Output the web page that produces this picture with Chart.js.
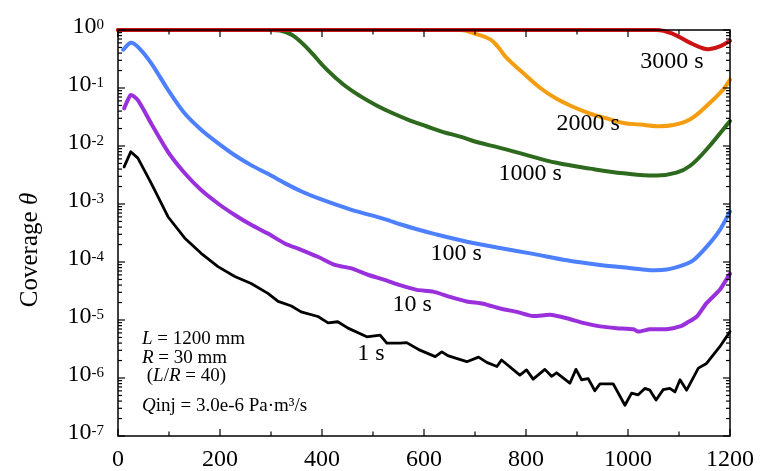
<!DOCTYPE html>
<html>
<head>
<meta charset="utf-8">
<script src="https://cdn.jsdelivr.net/npm/chart.js@4.4.1/dist/chart.umd.min.js"></script>
<style>
  html, body { margin: 0; padding: 0; background: #fff; }
  #wrap { width: 760px; height: 471px; }
</style>
</head>
<body>
<div id="wrap"><canvas id="coverageChart" width="760" height="471"></canvas></div>
<script>
// position along the pipe (mm) and surface coverage for each elapsed time
const pos3000 = [0, 1056, 1089, 1122, 1148, 1161, 1180, 1200];
const cov3000 = [1, 1, 0.85, 0.60, 0.48, 0.47, 0.52, 0.65];

const pos2000 = [0, 671, 703, 730, 746, 762, 795, 828, 860, 893, 926, 958, 991, 1024, 1056, 1089, 1122, 1154, 1187, 1200];
const cov2000 = [1, 1, 0.85, 0.69, 0.50, 0.33, 0.18, 0.10, 0.065, 0.047, 0.036, 0.030, 0.025, 0.0234, 0.022, 0.023, 0.029, 0.049, 0.095, 0.138];

const pos1000 = [0, 300, 318, 344, 376, 409, 442, 475, 507, 540, 573, 605, 638, 671, 703, 749, 795, 860, 926, 991, 1056, 1095, 1122, 1154, 1187, 1200];
const cov1000 = [1, 1, 0.98, 0.794, 0.437, 0.209, 0.115, 0.0724, 0.0501, 0.0363, 0.0275, 0.0219, 0.0174, 0.0145, 0.0117, 0.0093, 0.00724, 0.00513, 0.00407, 0.00339, 0.00309, 0.00347, 0.00457, 0.00871, 0.0195, 0.0269];

const pos100 = [10, 25, 39, 65, 98, 131, 163, 196, 229, 261, 294, 327, 359, 392, 458, 523, 553, 588, 618, 684, 749, 814, 880, 945, 1011, 1043, 1076, 1109, 1128, 1154, 1180, 1200];
const cov100 = [0.457, 0.603, 0.513, 0.269, 0.0933, 0.0363, 0.0191, 0.0112, 0.00692, 0.00468, 0.00331, 0.00229, 0.00166, 0.00126, 7.94e-4, 5.50e-4, 4.47e-4, 3.63e-4, 3.09e-4, 2.24e-4, 1.74e-4, 1.38e-4, 1.07e-4, 8.91e-5, 7.76e-5, 7.24e-5, 7.41e-5, 8.91e-5, 1.07e-4, 1.82e-4, 3.55e-4, 7.41e-4];

const pos10 = [12, 25, 39, 65, 98, 131, 163, 196, 229, 261, 294, 327, 359, 392, 425, 458, 490, 523, 553, 586, 618, 651, 684, 716, 749, 782, 814, 847, 880, 912, 945, 978, 1011, 1020, 1043, 1076, 1102, 1115, 1135, 1154, 1180, 1200];
const cov10 = [0.0447, 0.0759, 0.0617, 0.0245, 0.00794, 0.00339, 0.00174, 0.00102, 6.46e-4, 4.37e-4, 3.09e-4, 2.09e-4, 1.62e-4, 1.23e-4, 8.91e-5, 7.76e-5, 6.03e-5, 4.90e-5, 3.98e-5, 3.31e-5, 3.09e-5, 2.51e-5, 2.09e-5, 1.91e-5, 1.58e-5, 1.38e-5, 1.17e-5, 1.23e-5, 1.07e-5, 8.91e-6, 7.76e-6, 7.24e-6, 6.92e-6, 6.31e-6, 6.92e-6, 6.92e-6, 7.76e-6, 8.91e-6, 1.15e-5, 1.95e-5, 3.31e-5, 6.31e-5];

const pos1 = [12, 25, 39, 65, 82, 98, 131, 163, 196, 229, 261, 294, 314, 340, 359, 392, 412, 431, 451, 488, 514, 527, 553, 566, 592, 622, 635, 648, 684, 707, 723, 743, 752, 788, 801, 814, 837, 850, 860, 886, 898, 909, 922, 935, 945, 971, 994, 1007, 1020, 1033, 1043, 1055, 1069, 1082, 1092, 1102, 1115, 1138, 1154, 1180, 1200];
const cov1 = [4.37e-3, 7.94e-3, 6.17e-3, 2.29e-3, 1.15e-3, 6.03e-4, 2.57e-4, 1.41e-4, 8.32e-5, 5.62e-5, 4.27e-5, 2.88e-5, 2.09e-5, 1.74e-5, 1.38e-5, 1.15e-5, 8.91e-6, 9.33e-6, 7.24e-6, 5.13e-6, 5.50e-6, 3.98e-6, 3.98e-6, 4.07e-6, 3.02e-6, 2.34e-6, 2.82e-6, 2.40e-6, 1.91e-6, 2.29e-6, 1.86e-6, 1.58e-6, 2.04e-6, 1.12e-6, 1.38e-6, 9.55e-7, 1.41e-6, 1.07e-6, 1.23e-6, 8.13e-7, 1.41e-6, 9.33e-7, 9.77e-7, 6.03e-7, 7.94e-7, 7.94e-7, 3.39e-7, 5.50e-7, 5.13e-7, 6.61e-7, 6.17e-7, 4.17e-7, 6.31e-7, 6.61e-7, 5.75e-7, 9.33e-7, 6.17e-7, 1.48e-6, 1.78e-6, 3.47e-6, 6.31e-6];

// axis ticks
const xTickValues = [0, 200, 400, 600, 800, 1000, 1200];
const yTickValues = [1, 1e-1, 1e-2, 1e-3, 1e-4, 1e-5, 1e-6, 1e-7];
const yTickExps = ['0', '-1', '-2', '-3', '-4', '-5', '-6', '-7'];

// curve labels, anchored in data coordinates
const curveLabels = ['3000 s', '2000 s', '1000 s', '100 s', '10 s', '1 s'];
const labelPos = [1086, 922, 808, 663, 577, 496];
const labelCov = [0.28, 0.024, 3.3e-3, 1.38e-4, 1.8e-5, 2.6e-6];

const SERIF = '"Liberation Serif", "Times New Roman", serif';

function pts(xs, ys) {
    return xs.map((x, i) => ({ x, y: ys[i] }));
}

function series(xs, ys, color, width, tension) {
    return {
        data: pts(xs, ys),
        borderColor: color,
        borderWidth: width,
        pointRadius: 0,
        fill: false,
        clip: 6,
        tension: tension,
        borderJoinStyle: 'round',
        borderCapStyle: 'round'
    };
}

// draws a line of text made of [text, italic] runs
function drawRuns(ctx, runs, x, y, size) {
    for (const [text, italic] of runs) {
        ctx.font = (italic ? 'italic ' : '') + size + 'px ' + SERIF;
        ctx.fillText(text, x, y);
        x += ctx.measureText(text).width;
    }
}

function runsWidth(ctx, runs, size) {
    let w = 0;
    for (const [text, italic] of runs) {
        ctx.font = (italic ? 'italic ' : '') + size + 'px ' + SERIF;
        w += ctx.measureText(text).width;
    }
    return w;
}

const framePlugin = {
    id: 'frame',
    afterDatasetsDraw(chart) {
        const { ctx, chartArea: a, scales: { x, y } } = chart;
        ctx.save();
        ctx.strokeStyle = '#000';
        ctx.fillStyle = '#000';
        ctx.lineWidth = 1.5;
        ctx.strokeRect(a.left, a.top, a.right - a.left, a.bottom - a.top);

        const seg = (x1, y1, x2, y2) => {
            ctx.beginPath();
            ctx.moveTo(x1, y1);
            ctx.lineTo(x2, y2);
            ctx.stroke();
        };

        // x ticks point inward, top and bottom
        ctx.lineWidth = 1.2;
        for (let v = 0; v <= 1200; v += 100) {
            const px = x.getPixelForValue(v);
            const len = v % 200 === 0 ? 7 : 4.5;
            seg(px, a.bottom, px, a.bottom - len);
            seg(px, a.top, px, a.top + len);
        }

        // y ticks: decades plus 2..9 minors, left and right
        yTickValues.forEach(v => {
            const py = y.getPixelForValue(v);
            seg(a.left, py, a.left + 7, py);
            seg(a.right, py, a.right - 7, py);
            if (v < 1) {
                for (let m = 2; m <= 9; m++) {
                    const pm = y.getPixelForValue(v * m);
                    seg(a.left, pm, a.left + 4, pm);
                    seg(a.right, pm, a.right - 4, pm);
                }
            }
        });

        // x tick labels
        ctx.font = '24px ' + SERIF;
        ctx.textAlign = 'center';
        ctx.textBaseline = 'middle';
        xTickValues.forEach(v => {
            ctx.fillText(String(v), x.getPixelForValue(v), a.bottom + 24);
        });

        // y tick labels as 10 with a raised exponent
        ctx.textAlign = 'right';
        yTickValues.forEach((v, i) => {
            const py = y.getPixelForValue(v);
            const right = a.left - 14;
            ctx.font = '15px ' + SERIF;
            ctx.textBaseline = 'alphabetic';
            const ew = ctx.measureText(yTickExps[i]).width;
            ctx.fillText(yTickExps[i], right, py - 1);
            ctx.font = '24px ' + SERIF;
            ctx.textBaseline = 'middle';
            ctx.fillText('10', right - ew, py - 3);
        });

        // curve labels
        ctx.textAlign = 'center';
        ctx.textBaseline = 'middle';
        ctx.font = '24px ' + SERIF;
        curveLabels.forEach((t, i) => {
            ctx.fillText(t, x.getPixelForValue(labelPos[i]), y.getPixelForValue(labelCov[i]));
        });

        // pipe parameters
        ctx.textAlign = 'left';
        const tx = a.left + 24;
        drawRuns(ctx, [['L', true], [' = 1200 mm', false]], tx, a.bottom - 97, 19);
        drawRuns(ctx, [['R', true], [' = 30 mm', false]], tx, a.bottom - 78, 19);
        drawRuns(ctx, [[' (', false], ['L', true], ['/', false], ['R', true], [' = 40)', false]], tx, a.bottom - 60, 19);
        drawRuns(ctx, [['Q', true], ['inj = 3.0e-6 Pa\u00b7m\u00b3/s', false]], tx, a.bottom - 30, 19);

        // y axis title
        const title = [['Coverage ', false], ['\u03b8', true]];
        ctx.translate(30, 250);
        ctx.rotate(-Math.PI / 2);
        const tw = runsWidth(ctx, title, 25);
        drawRuns(ctx, title, -tw / 2, 0, 25);

        ctx.restore();
    }
};

new Chart(document.getElementById('coverageChart'), {
    type: 'line',
    data: {
        datasets: [
            series(pos3000, cov3000, '#cc1212', 4, 0.4),
            series(pos2000, cov2000, '#f59d10', 4, 0.4),
            series(pos1000, cov1000, '#2d6a1e', 4, 0.4),
            series(pos100, cov100, '#4d80ff', 4, 0.3),
            series(pos10, cov10, '#9a2fdc', 4, 0.2),
            series(pos1, cov1, '#000000', 2.8, 0)
        ]
    },
    options: {
        responsive: false,
        animation: false,
        devicePixelRatio: 1,
        layout: { padding: { left: 118, right: 30, top: 30, bottom: 35 } },
        plugins: { legend: { display: false }, tooltip: { enabled: false } },
        scales: {
            x: { type: 'linear', min: 0, max: 1200, display: false },
            y: { type: 'logarithmic', min: 1e-7, max: 1, display: false }
        }
    },
    plugins: [framePlugin]
});
</script>
</body>
</html>
